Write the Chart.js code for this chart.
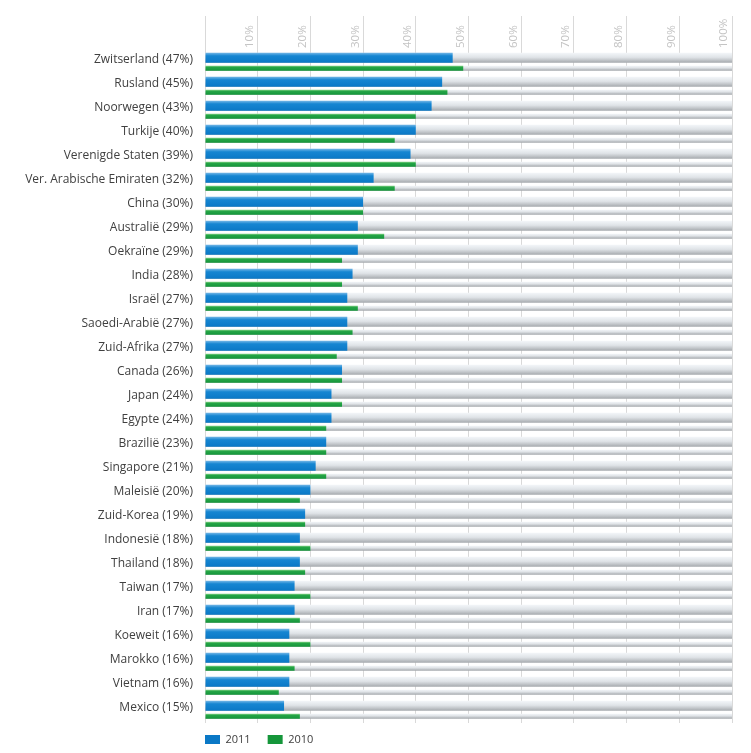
<!DOCTYPE html>
<html>
<head>
<meta charset="utf-8">
<script src="https://cdn.jsdelivr.net/npm/chart.js@4.4.1/dist/chart.umd.min.js"></script>
<style>
  html, body { margin: 0; padding: 0; background: #ffffff; }
  #wrap { width: 751px; height: 753px; position: relative; }
</style>
</head>
<body>
<div id="wrap"><canvas id="chart"></canvas></div>
<script>
// ---- data ----
const categories = [
  "Zwitserland (47%)", "Rusland (45%)", "Noorwegen (43%)", "Turkije (40%)",
  "Verenigde Staten (39%)", "Ver. Arabische Emiraten (32%)", "China (30%)",
  "Australië (29%)", "Oekraïne (29%)", "India (28%)", "Israël (27%)",
  "Saoedi-Arabië (27%)", "Zuid-Afrika (27%)", "Canada (26%)", "Japan (24%)",
  "Egypte (24%)", "Brazilië (23%)", "Singapore (21%)", "Maleisië (20%)",
  "Zuid-Korea (19%)", "Indonesië (18%)", "Thailand (18%)", "Taiwan (17%)",
  "Iran (17%)", "Koeweit (16%)", "Marokko (16%)", "Vietnam (16%)", "Mexico (15%)"
];
const values2011 = [47, 45, 43, 40, 39, 32, 30, 29, 29, 28, 27, 27, 27, 26, 24, 24, 23, 21, 20, 19, 18, 18, 17, 17, 16, 16, 16, 15];
const values2010 = [49, 46, 40, 36, 40, 36, 30, 34, 26, 26, 29, 28, 25, 26, 26, 23, 23, 23, 18, 19, 20, 19, 20, 18, 20, 17, 14, 18];
const trackMax   = [100, 100, 100, 100, 100, 100, 100, 100, 100, 100, 100, 100, 100, 100, 100, 100, 100, 100, 100, 100, 100, 100, 100, 100, 100, 100, 100, 100];
const seriesNames = ["2011", "2010"];
const xTicks = [0, 10, 20, 30, 40, 50, 60, 70, 80, 90, 100];

// ---- styling ----
const CAT = 0.86;
const BLUE_STOPS  = [[0, '#72b6e6'], [0.3, '#1686d2'], [1, '#0a78c6']];
const GREEN_STOPS = [[0, '#86d486'], [0.35, '#24a446'], [1, '#15963a']];
const GRAY_STOPS  = [[0, '#f3f6f9'], [0.45, '#dfe3e7'], [1, '#a4a8ac']];

function barGradient(stops, sign, thick, flat) {
  return (ctx) => {
    const chart = ctx.chart;
    const ys = chart.scales && chart.scales.y;
    if (ctx.type !== 'data' || !ys || !chart.chartArea) return flat;
    const c = ys.getPixelForValue(ctx.dataIndex);
    const per = Math.abs(ys.getPixelForValue(1) - ys.getPixelForValue(0)) || 24;
    const center = c + sign * per * CAT / 4;
    const g = chart.ctx.createLinearGradient(0, center - thick / 2, 0, center + thick / 2);
    stops.forEach(([o, col]) => g.addColorStop(o, col));
    return g;
  };
}

const legendShift = {
  id: 'legendShift',
  afterLayout(chart) {
    const lg = chart.legend;
    if (!lg) return;
    const pad = lg.options.labels.padding;
    lg.left = chart.chartArea.left - pad;
    lg.top = chart.chartArea.bottom + 11 - pad;
  }
};

new Chart(document.getElementById('chart'), {
  type: 'bar',
  data: {
    labels: categories,
    datasets: [
      {
        label: seriesNames[0], data: values2011, stack: 'a', order: 1,
        categoryPercentage: CAT, barPercentage: 0.97,
        backgroundColor: barGradient(BLUE_STOPS, -1, 10, '#0a80d0'), borderWidth: 0
      },
      {
        label: seriesNames[1], data: values2010, stack: 'b', order: 1,
        categoryPercentage: CAT, barPercentage: 0.49,
        backgroundColor: barGradient(GREEN_STOPS, 1, 5, '#1fa040'), borderWidth: 0
      },
      {
        label: 'track2011', data: trackMax, stack: 'a', order: 2,
        categoryPercentage: CAT, barPercentage: 0.97,
        backgroundColor: barGradient(GRAY_STOPS, -1, 10, '#d8dce0'), borderWidth: 0
      },
      {
        label: 'track2010', data: trackMax, stack: 'b', order: 2,
        categoryPercentage: CAT, barPercentage: 0.49,
        backgroundColor: barGradient(GRAY_STOPS, 1, 5, '#d8dce0'), borderWidth: 0
      }
    ]
  },
  options: {
    indexAxis: 'y',
    responsive: true,
    maintainAspectRatio: false,
    animation: false,
    layout: { padding: { left: 0, right: 19, top: 0, bottom: 0 } },
    scales: {
      x: {
        position: 'top',
        min: 0, max: 100,
        stacked: false,
        afterBuildTicks: (s) => { s.ticks = xTicks.map(v => ({ value: v })); },
        afterFit: (s) => { s.height = 51; },
        border: { display: false },
        grid: { color: '#d9d9d9', lineWidth: 1, drawTicks: true, tickLength: 35, tickColor: '#d9d9d9' },
        ticks: {
          autoSkip: false,
          minRotation: 90, maxRotation: 90,
          padding: -32,
          labelOffset: 6,
          color: '#c4c4c4',
          font: { family: 'Open Sans', size: 11.5 },
          callback: (v) => v === 0 ? '' : v + '%'
        }
      },
      y: {
        stacked: true,
        afterFit: (s) => { s.width = 205; },
        border: { display: false },
        grid: { display: false, drawTicks: false },
        ticks: {
          autoSkip: false,
          padding: 12,
          labelOffset: -3,
          color: '#404040',
          font: { family: 'Open Sans', size: 12 }
        }
      }
    },
    plugins: {
      tooltip: { enabled: false },
      legend: {
        position: 'bottom',
        align: 'start',
        fullSize: false,
        maxHeight: 30,
        labels: {
          boxWidth: 15, boxHeight: 9, padding: 17,
          color: '#404040',
          font: { family: 'Open Sans', size: 11 },
          filter: (item) => seriesNames.includes(item.text)
        }
      }
    }
  },
  plugins: [legendShift]
});
</script>
</body>
</html>
